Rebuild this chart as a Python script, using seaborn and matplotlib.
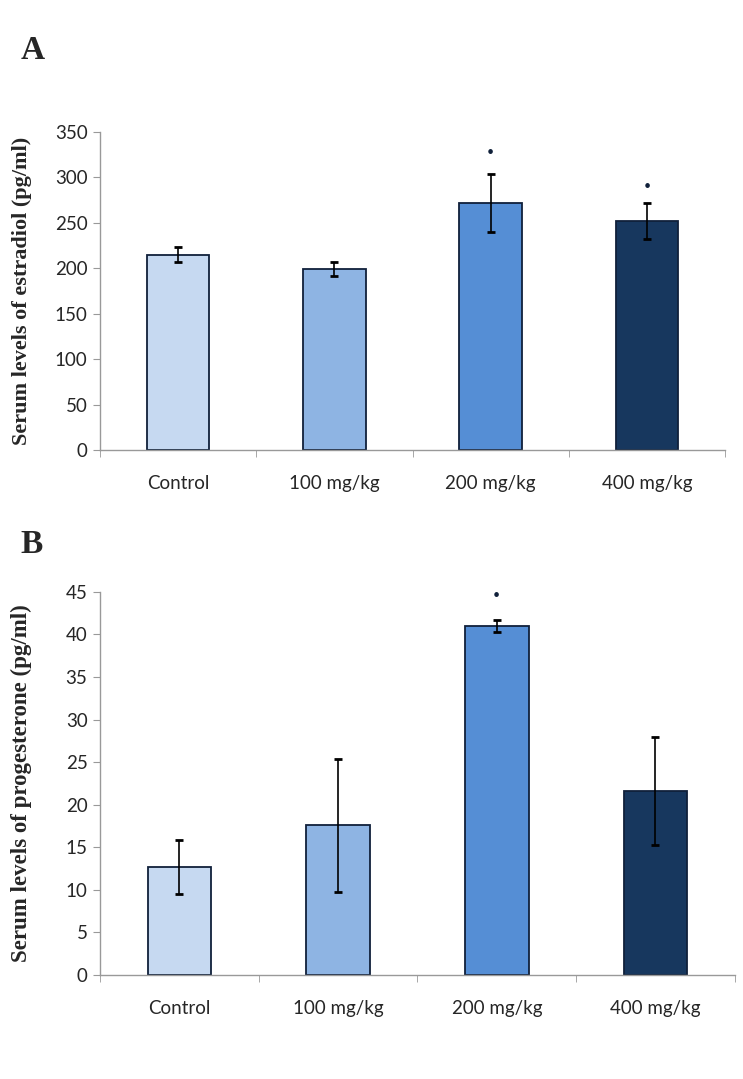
import matplotlib
matplotlib.use("Agg")
import matplotlib.pyplot as plt
import seaborn as sns
import pandas as pd

# data
groups = ["Control", "100 mg/kg", "200 mg/kg", "400 mg/kg"]
colors = ["#C6D9F1", "#8EB4E3", "#558ED5", "#17375E"]

estradiol = [215, 199, 272, 252]
estradiol_err = [8.5, 8, 32, 19.5]
estradiol_star = [None, None, 328, 290]

progesterone = [12.7, 17.6, 41.0, 21.6]
progesterone_err = [3.2, 7.8, 0.75, 6.3]
progesterone_star = [None, None, 44.6, None]

sns.set_style("white")
plt.rcParams["font.family"] = ["Lato", "DejaVu Sans"]

fig = plt.figure(figsize=(7.43, 10.79), dpi=100)
axA = fig.add_axes([0.1346, 0.5829, 0.8412, 0.2948])
axB = fig.add_axes([0.1346, 0.0964, 0.8544, 0.3550])


def draw_panel(ax, vals, errs, stars, ymax, ystep, ylabel, lsize, lx):
    df = pd.DataFrame({"group": groups, "value": vals})
    sns.barplot(data=df, x="group", y="value", hue="group", palette=colors,
                saturation=1, width=0.4, edgecolor="#10203a", linewidth=1.3,
                legend=False, ax=ax)
    ax.errorbar(range(len(vals)), vals, yerr=errs, fmt="none", ecolor="black",
                elinewidth=1.2, capsize=3, capthick=2)
    for i, s in enumerate(stars):
        if s is not None:
            ax.text(i, s, "•", ha="center", va="center", fontsize=9,
                    color="#10203a")
    ax.set_xlim(-0.5, 3.5)
    ax.set_ylim(0, ymax)
    ax.set_yticks(range(0, ymax + 1, ystep))
    ax.set_xticks([-0.5, 0.5, 1.5, 2.5, 3.5], minor=True)
    ax.tick_params(axis="x", which="major", length=0, pad=18,
                   labelsize=13.5, labelcolor="#262626")
    ax.tick_params(axis="x", which="minor", length=5, color="#999999",
                   direction="out", bottom=True)
    ax.tick_params(axis="y", length=5, color="#999999", direction="out",
                   left=True, labelsize=13.5, labelcolor="#262626", pad=4)
    for side in ["top", "right"]:
        ax.spines[side].set_visible(False)
    for side in ["left", "bottom"]:
        ax.spines[side].set_color("#999999")
        ax.spines[side].set_linewidth(1)
    ax.set_xlabel("")
    ax.set_ylabel(ylabel, family="Liberation Serif", fontweight="bold",
                  fontsize=lsize)
    ax.yaxis.set_label_coords(lx, 0.5)


draw_panel(axA, estradiol, estradiol_err, estradiol_star, 350, 50,
           "Serum levels of estradiol (pg/ml)", 16, -0.109)
draw_panel(axB, progesterone, progesterone_err, progesterone_star, 45, 5,
           "Serum levels of progesterone (pg/ml)", 16.5, -0.107)

fig.text(0.028, 0.953, "A", family="Liberation Serif", fontweight="bold",
         fontsize=24, va="center")
fig.text(0.028, 0.495, "B", family="Liberation Serif", fontweight="bold",
         fontsize=24, va="center")

fig.savefig("out.png", dpi=100)
